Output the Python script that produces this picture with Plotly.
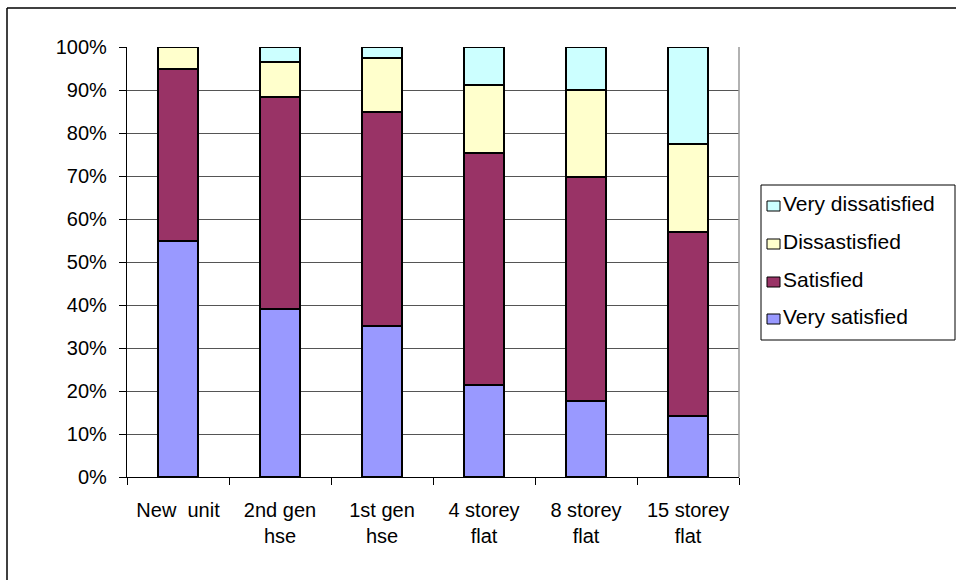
import plotly.graph_objects as go

# Housing satisfaction by dwelling type (percent of respondents)
categories = ["New\u00a0 unit", "2nd gen<br>hse", "1st gen<br>hse",
              "4 storey<br>flat", "8 storey<br>flat", "15 storey<br>flat"]
very_satisfied = [55.0, 39.1, 35.2, 21.3, 17.6, 14.3]
satisfied = [40.0, 49.2, 49.8, 54.0, 52.1, 42.7]
dissatisfied = [5.0, 8.3, 12.4, 15.8, 20.3, 20.5]
very_dissatisfied = [0.0, 3.4, 2.6, 8.9, 10.0, 22.5]

series = [
    ("Very satisfied", very_satisfied, "#9999FF"),
    ("Satisfied", satisfied, "#993366"),
    ("Dissastisfied", dissatisfied, "#FFFFCC"),
    ("Very dissatisfied", very_dissatisfied, "#CCFFFF"),
]

FONT = "Liberation Sans, Arial, sans-serif"

fig = go.Figure()
for name, vals, color in series:
    fig.add_trace(go.Bar(
        x=categories, y=vals, name=name, width=0.39, showlegend=False,
        marker=dict(color=color, line=dict(color="black", width=2)),
    ))

W, H = 956, 580
L, R, T, B = 127, 217, 47, 103
pw, ph = W - L - R, H - T - B

def px(x):
    return (x - L) / pw

def py(y):
    return (H - B - y) / ph

shapes = [
    # right edge of plotting area
    dict(type="line", xref="paper", yref="paper", x0=1, x1=1, y0=0, y1=1,
         line=dict(color="#999999", width=1.5)),
    # outer chart frame (top and left edges)
    dict(type="line", xref="paper", yref="paper",
         x0=px(7), x1=px(960), y0=py(8), y1=py(8),
         line=dict(color="black", width=1.5)),
    dict(type="line", xref="paper", yref="paper",
         x0=px(7), x1=px(7), y0=py(8), y1=py(590),
         line=dict(color="black", width=1.5)),
    # legend frame
    dict(type="rect", xref="paper", yref="paper",
         x0=px(761), x1=px(955), y0=py(185), y1=py(340),
         line=dict(color="black", width=1), fillcolor="white", layer="below"),
]
annotations = []

# legend entries, top to bottom: reverse of stacking order
baselines = [211, 249, 287, 324]
for (name, vals, color), base in zip(reversed(series), baselines):
    shapes.append(dict(
        type="rect", xref="paper", yref="paper",
        x0=px(767), x1=px(780), y0=py(base), y1=py(base - 10),
        line=dict(color="black", width=1), fillcolor=color,
    ))
    annotations.append(dict(
        xref="paper", yref="paper", x=px(781), y=py(base - 7.5),
        xanchor="left", yanchor="middle", showarrow=False, text=name,
        font=dict(family=FONT, size=21, color="black"),
    ))

fig.update_layout(
    width=W, height=H,
    margin=dict(l=L, r=R, t=T, b=B),
    barmode="stack",
    paper_bgcolor="white", plot_bgcolor="white",
    font=dict(family=FONT, size=20, color="black"),
    showlegend=False,
    xaxis=dict(
        showline=True, linecolor="black", linewidth=1.2,
        ticks="outside", ticklen=7, tickcolor="black", tickson="boundaries",
        ticklabelstandoff=15, showgrid=False,
        tickfont=dict(family=FONT, size=20),
    ),
    yaxis=dict(
        range=[0, 100], dtick=10, ticksuffix="%",
        showline=True, linecolor="black", linewidth=1.2,
        ticks="outside", ticklen=7, tickcolor="black",
        ticklabelstandoff=8,
        showgrid=True, gridcolor="#555555", gridwidth=1,
        zeroline=False,
        tickfont=dict(family=FONT, size=20),
    ),
    shapes=shapes,
    annotations=annotations,
)

fig.write_html("out.html")
